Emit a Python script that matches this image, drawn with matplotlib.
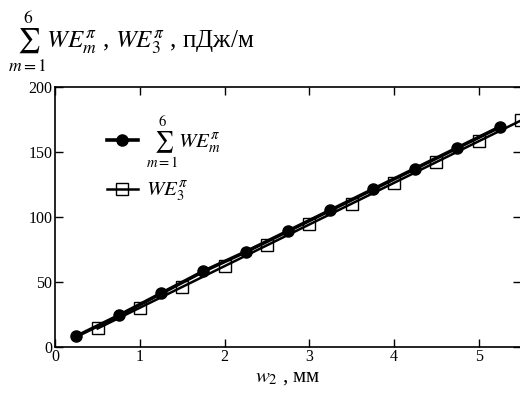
import matplotlib
matplotlib.use("Agg")
import matplotlib.pyplot as plt

plt.rcParams['font.family'] = ['Liberation Serif', 'DejaVu Serif']
plt.rcParams['mathtext.fontset'] = 'stix'

# Data
x_sum = [0.25, 0.75, 1.25, 1.75, 2.25, 2.75, 3.25, 3.75, 4.25, 4.75, 5.25]
y_sum = [8, 24, 41, 58, 73, 89, 105, 121, 137, 153, 169]
x_we3 = [0.5, 1.0, 1.5, 2.0, 2.5, 3.0, 3.5, 4.0, 4.5, 5.0, 5.5]
y_we3 = [14, 30, 46, 62, 78, 94, 110, 126, 142, 158, 174]
xticks = [0, 1, 2, 3, 4, 5]
yticks = [0, 50, 100, 150, 200]

fig = plt.figure(figsize=(5.2, 3.96), dpi=100)
ax = fig.add_axes([0.1063, 0.1245, 0.8956, 0.6566])

ax.plot(x_sum, y_sum, color='black', lw=2.6, marker='o', ms=8,
        mfc='black', mec='black', label=r'$\sum_{m=1}^{6}WE_m^{\pi}$', clip_on=False)
ax.plot(x_we3, y_we3, color='black', lw=1.8, marker='s', ms=9,
        mfc='none', mec='black', mew=1.0, label=r'$WE_3^{\pi}$', clip_on=False)

ax.set_xlim(0, 5.5)
ax.set_ylim(0, 200)
ax.set_xticks(xticks)
ax.set_yticks(yticks)
ax.tick_params(direction='in', length=6, width=1, labelsize=11.5, pad=2,
               top=True, right=True)
for s in ax.spines.values():
    s.set_linewidth(1.2)

ax.set_xlabel(r'$w_2$ , мм', fontsize=15, labelpad=2)

leg = ax.legend(loc='upper left', bbox_to_anchor=(0.07, 0.97), frameon=False,
                fontsize=15, handlelength=1.5, handletextpad=0.4, labelspacing=0.5)

fig.text(0.015, 0.88, r'$\sum_{m=1}^{6}WE_m^{\pi}$ , $WE_3^{\pi}$ , пДж/м',
         fontsize=18, ha='left', va='baseline')

fig.savefig('out.png', dpi=100)
